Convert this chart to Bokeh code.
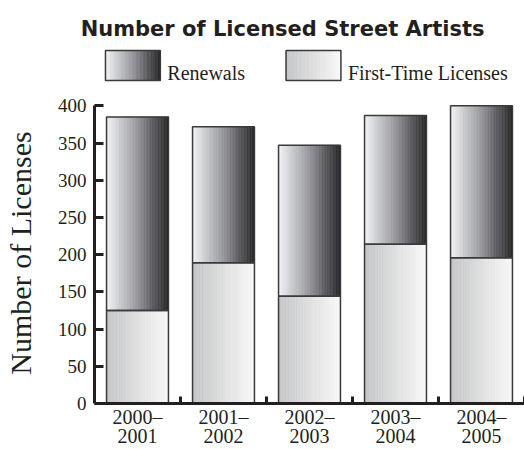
import numpy as np
from bokeh.plotting import figure
from bokeh.layouts import column
from bokeh.models import Range1d, FixedTicker, ColumnDataSource
from bokeh.core.properties import value
from bokeh.embed import file_html
from bokeh.resources import INLINE

# ---------------- data ----------------
periods = ["2000–2001", "2001–2002", "2002–2003", "2003–2004", "2004–2005"]
first_time = [125, 189, 144, 214, 196]
renewals = [260, 183, 203, 173, 204]
y_ticks = [0, 50, 100, 150, 200, 250, 300, 350, 400]
series_names = ["Renewals", "First-Time Licenses"]
chart_title = "Number of Licensed Street Artists"
y_title = "Number of Licenses"

# ---------------- style ----------------
SERIF = "Liberation Serif"
SANS = "DejaVu Sans"
INK = "#231f20"
OUTLINE = "#3a3a3a"
BAR_FRAC = 0.72
NSTRIP = 40
REN_STOPS = [(0.0, (244, 245, 247)), (0.5, (150, 151, 156)), (1.0, (38, 38, 40))]
FIRST_STOPS = [(0.0, (196, 197, 199)), (1.0, (249, 249, 249))]

W = 524
LEFT = 93
HEAD_H = 96
MAIN_H = 353
ORIGIN_X = 0
ORIGIN_Y = 0


def ramp(stops, n):
    t = (np.arange(n) + 0.5) / n
    pos = [s[0] for s in stops]
    chans = [np.interp(t, pos, [s[1][c] for s in stops]) for c in range(3)]
    return ["#%02x%02x%02x" % (int(r), int(g), int(b)) for r, g, b in zip(*chans)]


def strips(left, right, bottom, top, stops, n=NSTRIP):
    w = (right - left) / n
    ls = [left + k * w for k in range(n)]
    rs = [left + (k + 1) * w for k in range(n)]
    return dict(left=ls, right=rs, bottom=[bottom] * n, top=[top] * n,
                color=ramp(stops, n))


def merge(dicts):
    out = {k: [] for k in ["left", "right", "bottom", "top", "color"]}
    for d in dicts:
        for k in out:
            out[k].extend(d[k])
    return out


# ---------------- header figure (title + legend), page-pixel coordinates ----------------
t = figure(width=W, height=HEAD_H,
           x_range=Range1d(ORIGIN_X + LEFT, ORIGIN_X + W),
           y_range=Range1d(ORIGIN_Y + HEAD_H, ORIGIN_Y),
           min_border_left=LEFT, min_border_right=0, min_border_top=0, min_border_bottom=0,
           toolbar_location=None, output_backend="svg",
           x_axis_location=None, y_axis_location=None)
t.grid.visible = False
t.outline_line_color = None

t.text(x=[281.5], y=[28], text=[chart_title], text_font=value(SANS), text_font_style="bold",
       text_font_size="21px", text_align="center", text_baseline="alphabetic", text_color=INK,
       level="overlay")

legend_boxes = [(104, 159), (285, 340)]
legend_stops = [REN_STOPS, FIRST_STOPS]
leg = merge([strips(l, r, 80, 50, s) for (l, r), s in zip(legend_boxes, legend_stops)])
t.quad(left="left", right="right", bottom="bottom", top="top", fill_color="color",
       line_color="color", line_width=0.6, source=ColumnDataSource(leg))
t.quad(left=[b[0] for b in legend_boxes], right=[b[1] for b in legend_boxes], bottom=80, top=50,
       fill_color=None, line_color=OUTLINE, line_width=1.5)
t.text(x=[b[1] + 7 for b in legend_boxes], y=[72, 72], text=series_names, text_font=value(SERIF),
       text_font_size="20px", text_align="left", text_baseline="alphabetic", text_color=INK,
       level="overlay")

# ---------------- main chart ----------------
n = len(periods)
p = figure(width=W, height=MAIN_H, x_range=Range1d(0, n), y_range=Range1d(0, 404.5),
           toolbar_location=None, output_backend="svg",
           min_border_left=LEFT, min_border_right=0, min_border_top=6, min_border_bottom=40)
p.grid.visible = False
p.outline_line_color = None

lefts = [i + 0.5 - BAR_FRAC / 2 for i in range(n)]
rights = [i + 0.5 + BAR_FRAC / 2 for i in range(n)]
tops = [f + r for f, r in zip(first_time, renewals)]

parts = []
for i in range(n):
    parts.append(strips(lefts[i], rights[i], 0, first_time[i], FIRST_STOPS))
    parts.append(strips(lefts[i], rights[i], first_time[i], tops[i], REN_STOPS))
p.quad(left="left", right="right", bottom="bottom", top="top", fill_color="color",
       line_color="color", line_width=0.6, source=ColumnDataSource(merge(parts)))
p.quad(left=lefts, right=rights, bottom=0, top=first_time, fill_color=None,
       line_color=OUTLINE, line_width=1.5)
p.quad(left=lefts, right=rights, bottom=first_time, top=tops, fill_color=None,
       line_color=OUTLINE, line_width=1.5)

# y axis
ya = p.yaxis[0]
ya.ticker = FixedTicker(ticks=y_ticks)
ya.bounds = (0, 400)
ya.axis_line_width = 3
ya.axis_line_color = INK
ya.major_tick_in = 9
ya.major_tick_out = 0
ya.major_tick_line_width = 3
ya.major_tick_line_color = INK
ya.minor_tick_line_color = None
ya.major_label_text_font = SERIF
ya.major_label_text_font_size = "19px"
ya.major_label_text_color = INK
ya.major_label_standoff = 8
ya.axis_label = y_title
ya.axis_label_text_font = SERIF
ya.axis_label_text_font_size = "30px"
ya.axis_label_text_font_style = "normal"
ya.axis_label_text_color = INK
ya.axis_label_standoff = 18

# x axis
xa = p.xaxis[0]
xa.ticker = FixedTicker(ticks=[i + 0.5 for i in range(n)], minor_ticks=[i + 1 for i in range(n)])
xa.major_label_overrides = {i + 0.5: periods[i].replace("–", "–\n") for i in range(n)}
xa.axis_line_width = 3
xa.axis_line_color = INK
xa.major_tick_line_color = None
xa.major_tick_in = 0
xa.major_tick_out = 0
xa.minor_tick_in = 7
xa.minor_tick_out = 0
xa.minor_tick_line_width = 3
xa.minor_tick_line_color = INK
xa.major_label_text_font = SERIF
xa.major_label_text_font_size = "20px"
xa.major_label_text_color = INK
xa.major_label_text_line_height = 0.88
xa.major_label_standoff = 2
xa.axis_label_standoff = 0

layout = column(t, p, spacing=0)
open("out.html", "w").write(file_html(layout, INLINE))
